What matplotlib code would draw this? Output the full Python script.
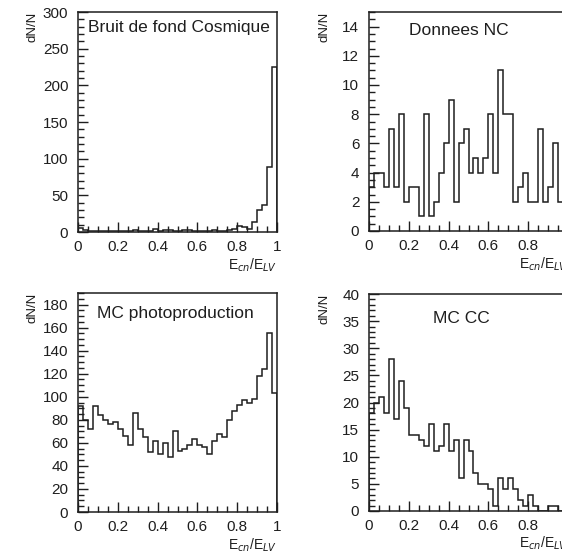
import numpy as np
import matplotlib.pyplot as plt
from matplotlib.ticker import MultipleLocator

plt.rcParams['font.family'] = ['Liberation Sans', 'DejaVu Sans']

# 40 bins between 0 and 1 for every histogram
edges = np.linspace(0, 1, 41)

cosmic = [5, 3, 2, 2, 2, 2, 2, 1, 2, 2, 2, 3, 2, 2, 2, 4, 2, 3, 3, 2,
          2, 3, 3, 2, 2, 2, 2, 3, 2, 2, 3, 4, 8, 7, 4, 13, 30, 37, 88, 225]
donnees_nc = [3, 4, 4, 3, 7, 3, 8, 2, 3, 3, 1, 8, 1, 2, 4, 6, 9, 2, 6, 7,
              4, 5, 4, 5, 8, 4, 11, 8, 8, 2, 3, 4, 2, 2, 7, 2, 3, 6, 2, 3]
mc_photo = [92, 80, 72, 92, 84, 80, 76, 78, 72, 66, 58, 86, 72, 65, 52, 62, 50, 60, 48, 70,
            53, 55, 58, 63, 58, 56, 50, 62, 68, 65, 80, 88, 93, 97, 95, 98, 118, 124, 155, 103]
mc_cc = [18, 20, 21, 18, 28, 17, 24, 19, 14, 14, 13, 12, 16, 11, 12, 16, 11, 13, 6, 13,
         11, 7, 5, 5, 4, 1, 6, 4, 6, 4, 2, 1, 3, 1, 0, 0, 1, 1, 0, 0]

titles = ["Bruit de fond Cosmique", "Donnees NC", "MC photoproduction", "MC CC"]
xlabel = r"E$_{cn}$/E$_{LV}$"

W, H = 562, 553
fig = plt.figure(figsize=(W / 100, H / 100), dpi=100)
fig.patch.set_facecolor('white')

ink = '#1e1e1e'

# (values, left px, top px, bottom px, ymax, major, minor, title x, title y)
panels = [
    (cosmic,     78, 12, 232, 300, 50, 10, 0.05, 0.93),
    (donnees_nc, 369, 12, 231, 15, 2, 0.5, 0.20, 0.915),
    (mc_photo,   78, 293, 512, 190, 20, 5, 0.095, 0.905),
    (mc_cc,      369, 294, 511, 40, 5, 1, 0.32, 0.885),
]

for (vals, left, top, bot, ymax, maj, mnr, tx, ty), title in zip(panels, titles):
    ax = fig.add_axes([left / W, 1 - bot / H, 199 / W, (bot - top) / H])
    ax.stairs(vals, edges, baseline=0, color=ink, lw=1.1)
    ax.set_xlim(0, 1)
    ax.set_ylim(0, ymax)
    ax.xaxis.set_major_locator(MultipleLocator(0.2))
    ax.xaxis.set_minor_locator(MultipleLocator(0.05))
    ax.yaxis.set_major_locator(MultipleLocator(maj))
    ax.yaxis.set_minor_locator(MultipleLocator(mnr))
    ax.xaxis.set_major_formatter(plt.FuncFormatter(lambda v, p: '%g' % round(v, 2)))
    ax.tick_params(which='both', direction='in', top=False, right=False,
                   color=ink, labelcolor=ink, labelsize=11, width=1.0)
    ax.tick_params(which='major', length=7)
    ax.tick_params(which='minor', length=4)
    ax.tick_params(axis='y', pad=7)
    ax.tick_params(axis='x', pad=6)
    for s in ax.spines.values():
        s.set_color(ink)
        s.set_linewidth(1.1)
    ax.text(tx, ty, title, transform=ax.transAxes, fontsize=12.5,
            color=ink, va='center', ha='left')
    ax.text(1.0, -0.15, xlabel, transform=ax.transAxes, fontsize=10,
            color=ink, ha='right', va='center')
    fig.text((left - 45) / W, 1 - top / H, "dN/N", rotation=90, fontsize=9.5,
             color=ink, ha='center', va='top')

fig.savefig('out.png', dpi=100, facecolor='white')
